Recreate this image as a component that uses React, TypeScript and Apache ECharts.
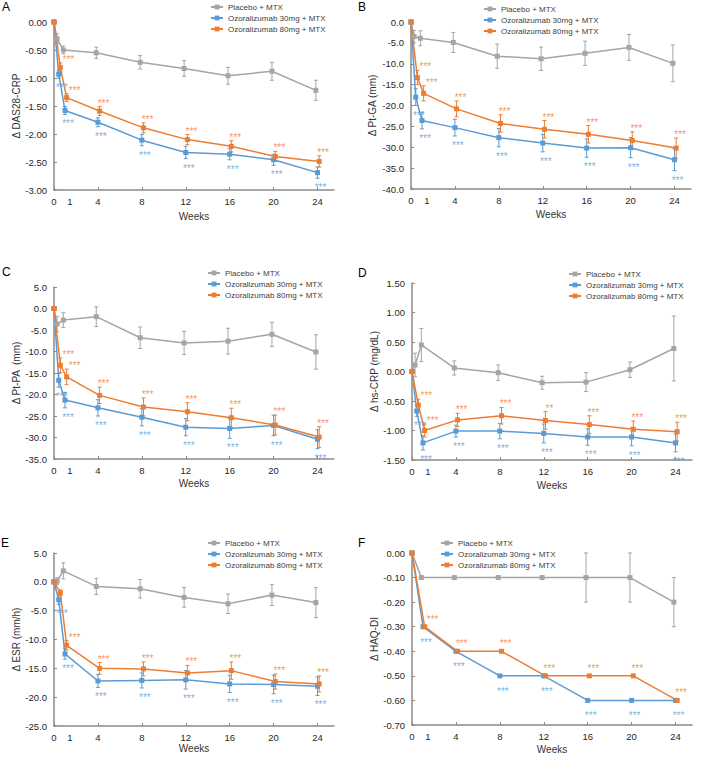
import React, { useEffect, useRef } from 'react';
import * as echarts from 'echarts';

const SERIES_NAMES = ['Placebo + MTX', 'Ozoralizumab 30mg + MTX', 'Ozoralizumab 80mg + MTX'];
const COLORS = ['#a5a5a5', '#5b9bd5', '#ed7d31'];

const WEEKS = [0, 0.43, 1, 4, 8, 12, 16, 20, 24];
const WEEKS_F = [0, 1, 4, 8, 12, 16, 20, 24];
const WEEK_LABELS = ['0', '1', '4', '8', '12', '16', '20', '24'];
const WEEK_TICKS = [0, 4, 8, 12, 16, 20, 24];

// A: DAS28-CRP
const A_PLACEBO = [0, -0.3, -0.5, -0.55, -0.72, -0.83, -0.96, -0.88, -1.22];
const A_PLACEBO_ERR = [0, 0.09, 0.07, 0.1, 0.12, 0.14, 0.15, 0.16, 0.18];
const A_OZ30 = [0, -0.93, -1.58, -1.79, -2.11, -2.33, -2.36, -2.46, -2.69];
const A_OZ30_ERR = [0, 0.07, 0.07, 0.08, 0.1, 0.11, 0.1, 0.1, 0.1];
const A_OZ80 = [0, -0.81, -1.35, -1.59, -1.89, -2.1, -2.22, -2.4, -2.49];
const A_OZ80_ERR = [0, 0.08, 0.07, 0.08, 0.09, 0.09, 0.1, 0.09, 0.1];
const A_SIG30 = ['', '***', '***', '***', '***', '***', '***', '***', '***'];
const A_SIG80 = ['', '***', '***', '***', '***', '***', '***', '***', '***'];

// B: Pt-GA
const B_PLACEBO = [0, -3.5, -3.9, -4.9, -8.2, -8.8, -7.5, -6.1, -9.9];
const B_PLACEBO_ERR = [0, 1.5, 1.8, 2.4, 2.9, 2.8, 2.9, 3.1, 4.4];
const B_OZ30 = [0, -18.0, -23.6, -25.3, -27.7, -29.0, -30.2, -30.1, -33.0];
const B_OZ30_ERR = [0, 2.0, 2.0, 2.0, 2.2, 2.1, 2.2, 2.4, 2.6];
const B_OZ80 = [0, -13.3, -17.1, -20.8, -24.3, -25.7, -26.9, -28.4, -30.2];
const B_OZ80_ERR = [0, 1.7, 1.8, 1.9, 2.1, 2.1, 2.1, 2.1, 2.4];
const B_SIG30 = ['', '***', '***', '***', '***', '***', '***', '***', '***'];
const B_SIG80 = ['', '***', '***', '***', '***', '***', '***', '***', '***'];

// C: Pt-PA
const C_PLACEBO = [0, -3.6, -2.7, -1.9, -6.8, -8.0, -7.6, -6.0, -10.1];
const C_PLACEBO_ERR = [0, 1.8, 1.7, 2.3, 2.5, 2.7, 3.0, 2.8, 4.0];
const C_OZ30 = [0, -16.7, -21.3, -23.1, -25.3, -27.6, -27.9, -27.2, -30.4];
const C_OZ30_ERR = [0, 1.6, 1.8, 1.9, 2.0, 2.0, 2.3, 2.4, 2.2];
const C_OZ80 = [0, -13.2, -15.9, -20.2, -22.9, -24.0, -25.4, -27.1, -29.9];
const C_OZ80_ERR = [0, 1.7, 1.8, 1.9, 2.1, 2.1, 2.2, 2.3, 2.4];
const C_SIG30 = ['', '***', '***', '***', '***', '***', '***', '***', '***'];
const C_SIG80 = ['', '***', '***', '***', '***', '***', '***', '***', '***'];

// D: hs-CRP
const D_PLACEBO = [0, 0.11, 0.45, 0.06, -0.02, -0.19, -0.18, 0.03, 0.39];
const D_PLACEBO_ERR = [0, 0.2, 0.28, 0.12, 0.13, 0.11, 0.16, 0.13, 0.55];
const D_OZ30 = [0, -0.67, -1.21, -1.01, -1.01, -1.05, -1.11, -1.11, -1.21];
const D_OZ30_ERR = [0, 0.09, 0.12, 0.1, 0.13, 0.16, 0.14, 0.15, 0.15];
const D_OZ80 = [0, -0.57, -1.0, -0.82, -0.75, -0.83, -0.9, -0.98, -1.02];
const D_OZ80_ERR = [0, 0.1, 0.11, 0.11, 0.14, 0.15, 0.15, 0.14, 0.16];
const D_SIG30 = ['', '***', '***', '***', '***', '***', '***', '***', '***'];
const D_SIG80 = ['', '***', '***', '***', '***', '**', '***', '***', '***'];

// E: ESR
const E_PLACEBO = [0, 0.1, 1.9, -0.8, -1.2, -2.7, -3.8, -2.3, -3.6];
const E_PLACEBO_ERR = [0, 0.6, 1.4, 1.4, 1.6, 1.7, 1.7, 1.8, 2.6];
const E_OZ30 = [0, -3.1, -12.5, -17.2, -17.1, -17.0, -17.7, -17.8, -18.1];
const E_OZ30_ERR = [0, 0.8, 0.9, 1.1, 1.3, 1.6, 1.5, 1.6, 1.6];
const E_OZ80 = [0, -1.9, -11.0, -15.0, -15.1, -15.8, -15.4, -17.3, -17.7];
const E_OZ80_ERR = [0, 0.5, 0.8, 1.0, 1.2, 1.3, 1.5, 1.3, 1.4];
const E_SIG30 = ['', '***', '***', '***', '***', '***', '***', '***', '***'];
const E_SIG80 = ['', '', '***', '***', '***', '***', '***', '***', '***'];

// F: HAQ-DI
const F_PLACEBO = [0, -0.1, -0.1, -0.1, -0.1, -0.1, -0.1, -0.2];
const F_PLACEBO_ERR = [0, 0, 0, 0, 0, 0.1, 0.1, 0.1];
const F_OZ30 = [0, -0.3, -0.4, -0.5, -0.5, -0.6, -0.6, -0.6];
const F_OZ30_ERR = [0, 0, 0, 0, 0, 0, 0, 0];
const F_OZ80 = [0, -0.3, -0.4, -0.4, -0.5, -0.5, -0.5, -0.6];
const F_OZ80_ERR = [0, 0, 0, 0, 0, 0, 0, 0];
const F_SIG30 = ['', '***', '***', '***', '***', '***', '***', '***'];
const F_SIG80 = ['', '***', '***', '***', '***', '***', '***', '***'];

const PANELS = [
  { letter: 'A', yName: 'Δ DAS28-CRP', min: -3, max: 0, interval: 0.5, dec: 2, weeks: WEEKS,
    values: [A_PLACEBO, A_OZ30, A_OZ80], errs: [A_PLACEBO_ERR, A_OZ30_ERR, A_OZ80_ERR], sig30: A_SIG30, sig80: A_SIG80 },
  { letter: 'B', yName: 'Δ Pt-GA (mm)', min: -40, max: 0, interval: 5, dec: 1, weeks: WEEKS,
    values: [B_PLACEBO, B_OZ30, B_OZ80], errs: [B_PLACEBO_ERR, B_OZ30_ERR, B_OZ80_ERR], sig30: B_SIG30, sig80: B_SIG80 },
  { letter: 'C', yName: 'Δ Pt-PA  (mm)', min: -35, max: 5, interval: 5, dec: 1, weeks: WEEKS,
    values: [C_PLACEBO, C_OZ30, C_OZ80], errs: [C_PLACEBO_ERR, C_OZ30_ERR, C_OZ80_ERR], sig30: C_SIG30, sig80: C_SIG80 },
  { letter: 'D', yName: 'Δ hs-CRP (mg/dL)', min: -1.5, max: 1.5, interval: 0.5, dec: 2, weeks: WEEKS,
    values: [D_PLACEBO, D_OZ30, D_OZ80], errs: [D_PLACEBO_ERR, D_OZ30_ERR, D_OZ80_ERR], sig30: D_SIG30, sig80: D_SIG80 },
  { letter: 'E', yName: 'Δ ESR (mm/h)', min: -25, max: 5, interval: 5, dec: 1, weeks: WEEKS,
    values: [E_PLACEBO, E_OZ30, E_OZ80], errs: [E_PLACEBO_ERR, E_OZ30_ERR, E_OZ80_ERR], sig30: E_SIG30, sig80: E_SIG80 },
  { letter: 'F', yName: 'Δ HAQ-DI', min: -0.7, max: 0, interval: 0.1, dec: 2, weeks: WEEKS_F,
    values: [F_PLACEBO, F_OZ30, F_OZ80], errs: [F_PLACEBO_ERR, F_OZ30_ERR, F_OZ80_ERR], sig30: F_SIG30, sig80: F_SIG80 },
];

// layout (pixels / axis positions for labels)
const LABEL_POS = [0, 1.45, 4, 8, 12, 16, 20, 24];
const LAYOUT = [
  { left: 54, top: 22, height: 168, yGap: 32, xGap: 21, legL: 210, legT: 3, lx: 2, ly: 1, up: 0, down: 3 },
  { left: 411, top: 22, height: 167, yGap: 34, xGap: 20, legL: 483, legT: 5, lx: 358, ly: 1, up: 0, down: 3 },
  { left: 54, top: 287, height: 172, yGap: 32, xGap: 19, legL: 207, legT: 269, lx: 2, ly: 266, up: 0, down: 3 },
  { left: 412, top: 283, height: 177, yGap: 33, xGap: 20, legL: 568, legT: 270, lx: 358, ly: 267, up: 0, down: 3 },
  { left: 54, top: 553, height: 173, yGap: 32, xGap: 17, legL: 207, legT: 539, lx: 1, ly: 537, up: 0, down: 3 },
  { left: 412, top: 553, height: 172, yGap: 33, xGap: 19, legL: 440, legT: 539, lx: 358, ly: 537, up: 4, down: 9 },
];
const PLOT_WIDTH = 280;
const X_MAX = 25.5;
const X_SHIFT = [-0.15, 0, 0.15];
const FONT = "'Liberation Sans', Arial, sans-serif";
const AXIS_COLOR = '#8a8a8a';

function xPos(w: number, s: number) {
  return w === 0 ? 0 : w + X_SHIFT[s];
}

function weekLabel(v: number) {
  const k = LABEL_POS.findIndex((p) => Math.abs(p - v) < 1e-6);
  return k >= 0 ? WEEK_LABELS[k] : '';
}

function buildOption() {
  const grid: any[] = [];
  const xAxis: any[] = [];
  const yAxis: any[] = [];
  const legend: any[] = [];
  const series: any[] = [];
  const graphic: any[] = [];

  PANELS.forEach((p, i) => {
    const L = LAYOUT[i];
    grid.push({ left: L.left, top: L.top, width: PLOT_WIDTH, height: L.height, containLabel: false });
    xAxis.push({
      type: 'value', gridIndex: i, min: 0, max: X_MAX,
      name: 'Weeks', nameLocation: 'middle', nameGap: L.xGap,
      nameTextStyle: { fontSize: 10, color: '#333', fontFamily: FONT },
      axisLine: { show: true, onZero: false, lineStyle: { color: AXIS_COLOR, width: 1.5 } },
      axisTick: { show: true, inside: true, length: 3, customValues: WEEK_TICKS, lineStyle: { color: AXIS_COLOR } },
      axisLabel: {
        customValues: LABEL_POS, fontSize: 9.5, color: '#262626', margin: 6, fontFamily: FONT,
        formatter: (v: number) => weekLabel(v),
      },
      splitLine: { show: false },
    });
    yAxis.push({
      type: 'value', gridIndex: i, min: p.min, max: p.max, interval: p.interval,
      name: p.yName, nameLocation: 'middle', nameGap: L.yGap,
      nameTextStyle: { fontSize: 10, color: '#333', fontFamily: FONT },
      axisLine: { show: true, onZero: false, lineStyle: { color: AXIS_COLOR, width: 1.5 } },
      axisTick: { show: true, inside: true, length: 3, lineStyle: { color: AXIS_COLOR } },
      axisLabel: {
        fontSize: 9.5, color: '#262626', margin: 7, fontFamily: FONT,
        formatter: (v: number) => v.toFixed(p.dec),
      },
      splitLine: { show: false },
    });
    legend.push({
      orient: 'vertical', left: L.legL, top: L.legT, itemWidth: 12, itemHeight: 6, itemGap: 3,
      selectedMode: false, padding: 0,
      textStyle: { fontSize: 8, color: '#404040', fontFamily: FONT },
      data: SERIES_NAMES,
    });
    graphic.push({
      type: 'text', left: L.lx, top: L.ly,
      style: { text: p.letter, fontSize: 12, fill: '#000', font: `12px ${FONT}` },
    });

    for (let s = 0; s < 3; s++) {
      const vals = p.values[s];
      const errs = p.errs[s];
      const color = COLORS[s];
      const ebData = p.weeks
        .map((w, j) => [xPos(w, s), vals[j] - errs[j], vals[j] + errs[j], errs[j]])
        .filter((d) => d[3] > 0);
      series.push({
        type: 'custom', name: 'err' + i + s, xAxisIndex: i, yAxisIndex: i, z: 2,
        silent: true,
        encode: { x: 0, y: [1, 2] },
        data: ebData,
        renderItem: (params: any, api: any) => {
          const x = api.value(0);
          const lo = api.coord([x, api.value(1)]);
          const hi = api.coord([x, api.value(2)]);
          const cap = 2;
          const st = { stroke: color, lineWidth: 1 };
          return {
            type: 'group',
            children: [
              { type: 'line', shape: { x1: hi[0], y1: hi[1], x2: lo[0], y2: lo[1] }, style: st },
              { type: 'line', shape: { x1: hi[0] - cap, y1: hi[1], x2: hi[0] + cap, y2: hi[1] }, style: st },
              { type: 'line', shape: { x1: lo[0] - cap, y1: lo[1], x2: lo[0] + cap, y2: lo[1] }, style: st },
            ],
          };
        },
      });
      series.push({
        type: 'line', name: SERIES_NAMES[s], xAxisIndex: i, yAxisIndex: i, z: 3,
        data: p.weeks.map((w, j) => [xPos(w, s), vals[j]]),
        symbol: 'rect', symbolSize: 5, showSymbol: true,
        lineStyle: { color, width: 1.5 },
        itemStyle: { color },
        emphasis: { disabled: true },
      });
    }

    // significance marks
    const sigDefs = [
      { s: 1, sig: p.sig30, below: true },
      { s: 2, sig: p.sig80, below: false },
    ];
    sigDefs.forEach(({ s, sig, below }) => {
      const vals = p.values[s];
      const errs = p.errs[s];
      const data = p.weeks
        .map((w, j) => ({
          value: [xPos(w, s), below ? vals[j] - errs[j] : vals[j] + errs[j]],
          name: sig[j],
          label: { offset: below ? [3, L.down] : [w <= 1 ? 8 : 4, 3 - L.up] },
        }))
        .filter((d) => d.name !== '');
      series.push({
        type: 'scatter', name: 'sig' + i + s, xAxisIndex: i, yAxisIndex: i, z: 4,
        silent: true, symbolSize: 1, itemStyle: { color: 'rgba(0,0,0,0)' },
        data,
        label: {
          show: true, formatter: '{b}', position: below ? 'bottom' : 'top',
          distance: 1,
          fontSize: 10, color: COLORS[s], fontFamily: FONT,
        },
        emphasis: { disabled: true },
      });
    });
  });

  return {
    animation: false,
    backgroundColor: '#ffffff',
    textStyle: { fontFamily: FONT },
    grid, xAxis, yAxis, legend, series, graphic,
  };
}

export default function App() {
  const ref = useRef<HTMLDivElement>(null);
  useEffect(() => {
    if (!ref.current) return;
    const chart = echarts.init(ref.current, null, { renderer: 'svg' });
    chart.setOption(buildOption() as any);
    return () => chart.dispose();
  }, []);
  return (
    <div
      ref={ref}
      style={{ position: 'absolute', left: 0, top: 0, width: 709, height: 758, background: '#fff' }}
    />
  );
}
